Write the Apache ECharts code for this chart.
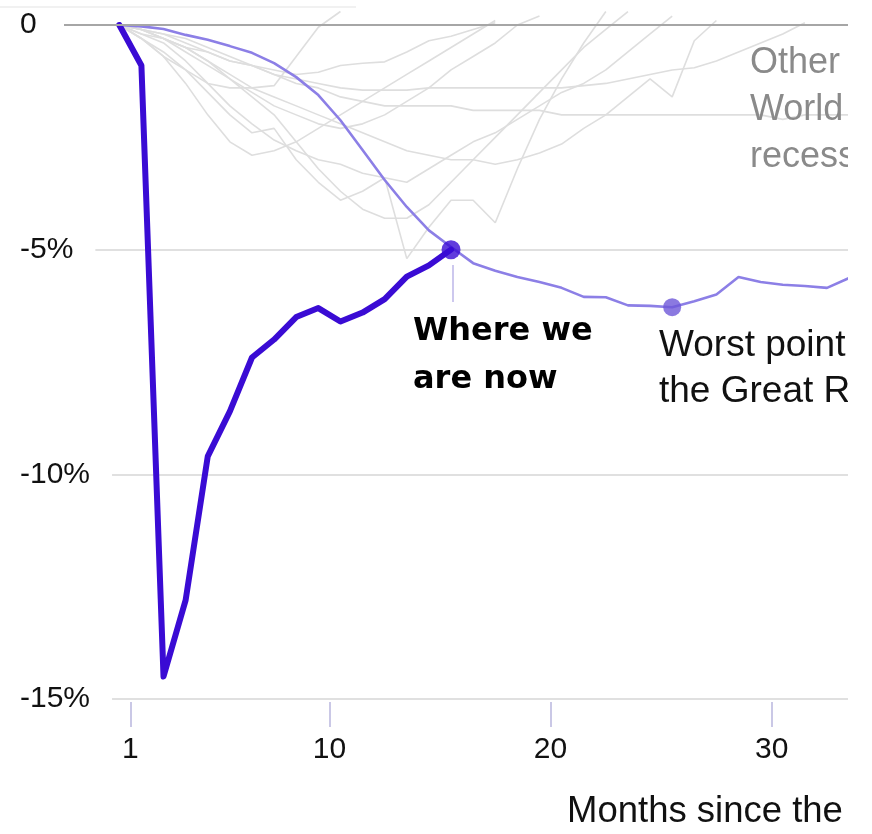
<!DOCTYPE html>
<html>
<head>
<meta charset="utf-8">
<script src="https://cdn.jsdelivr.net/npm/echarts@6/dist/echarts.min.js"></script>
<style>
html,body{margin:0;padding:0;background:#fff;}
#chart{width:872px;height:834px;}
</style>
</head>
<body>
<div id="chart"></div>
<script>
// x positions (months since the peak; the tick "1" is the first full month)
const months = [0.5,1.5,2.5,3.5,4.5,5.5,6.5,7.5,8.5,9.5,10.5,11.5,12.5,13.5,14.5,15.5,16.5,17.5,18.5,19.5,20.5,21.5,22.5,23.5,24.5,25.5,26.5,27.5,28.5,29.5,30.5,31.5,32.5,33.5,34.5,35.5];
const xTicks = [1, 10, 20, 30];

// Current recession (percent change in employment since peak)
const covid = [0, -0.9, -14.5, -12.8, -9.6, -8.6, -7.4, -7.0, -6.5, -6.3, -6.6, -6.4, -6.1, -5.6, -5.35, -5.0];
// Great Recession
const greatRecession = [0, -0.03, -0.09, -0.22, -0.33, -0.47, -0.62, -0.85, -1.16, -1.56, -2.12, -2.78, -3.45, -4.05, -4.57, -4.94, -5.3, -5.47, -5.61, -5.72, -5.85, -6.05, -6.06, -6.24, -6.25, -6.28, -6.15, -6.0, -5.61, -5.72, -5.78, -5.81, -5.85, -5.63, -5.5];
const worstIndex = 25;

// Other post-WWII recessions
const rec1948 = [0, -0.3, -0.6, -1.0, -1.5, -2.0, -2.4, -2.3, -3.0, -3.5, -3.9, -3.7, -3.4, -5.2, -4.5, -3.9, -3.9, -4.4, -3.2, -2.1, -1.2, -0.4, 0.3];
const rec1953 = [0, -0.2, -0.4, -0.8, -1.3, -1.8, -2.2, -2.56, -2.8, -3.0, -3.1, -3.3, -3.4, -3.5, -3.2, -2.9, -2.6, -2.4, -2.1, -1.8, -1.5, -1.3, -1.0, -0.6, -0.2, 0.2];
const rec1957 = [0, -0.1, -0.3, -0.6, -0.9, -1.2, -1.6, -2.0, -2.6, -3.2, -3.7, -4.1, -4.3, -4.3, -4.0, -3.5, -3.0, -2.5, -2.0, -1.5, -1.0, -0.5, -0.1, 0.3];
const rec1960 = [0, -0.1, -0.3, -0.5, -0.8, -1.2, -1.5, -1.8, -2.0, -2.2, -2.3, -2.2, -2.0, -1.7, -1.4, -1.0, -0.7, -0.4, 0.0, 0.2];
const rec1970 = [0, -0.2, -0.3, -0.5, -0.6, -0.8, -0.9, -1.0, -1.1, -1.05, -0.9, -0.85, -0.82, -0.6, -0.35, -0.25, -0.1, 0.05];
const rec1974 = [0, -0.3, -0.7, -1.3, -2.0, -2.6, -2.9, -2.8, -2.6, -2.3, -2.0, -1.7, -1.4, -1.1, -0.8, -0.5, -0.2, 0.1];
const rec1980 = [0, -0.3, -0.7, -1.0, -1.3, -1.4, -1.4, -1.35, -0.7, -0.05, 0.3];
const rec1981 = [0, -0.1, -0.3, -0.5, -0.8, -1.1, -1.4, -1.6, -1.8, -2.0, -2.2, -2.4, -2.6, -2.8, -2.9, -3.0, -3.0, -3.1, -3.0, -2.85, -2.65, -2.3, -2.0, -1.6, -1.2, -1.6, -0.35, 0.1];
const rec1990 = [0, -0.1, -0.2, -0.3, -0.5, -0.7, -0.9, -1.1, -1.2, -1.3, -1.4, -1.45, -1.45, -1.45, -1.4, -1.4, -1.4, -1.4, -1.4, -1.4, -1.4, -1.35, -1.3, -1.2, -1.1, -1.0, -0.95, -0.8, -0.6, -0.4, -0.2, 0.05];
const rec2001 = [0, -0.1, -0.2, -0.4, -0.6, -0.8, -0.9, -1.1, -1.3, -1.4, -1.6, -1.7, -1.8, -1.8, -1.8, -1.8, -1.9, -1.9, -1.9, -1.9, -2.0, -2.0, -2.0, -2.0, -2.0, -2.0, -2.0, -2.0, -2.0, -2.0, -2.1, -2.0, -2.0, -2.0, -1.9, -1.8];
const others = [rec1948, rec1953, rec1957, rec1960, rec1970, rec1974, rec1980, rec1981, rec1990, rec2001];

const FONT = '"Liberation Sans", Arial, sans-serif';
const toXY = arr => arr.map((v, i) => [months[i], v]);

const chart = echarts.init(document.getElementById('chart'), null, {renderer: 'canvas'});

const series = others.map((arr, i) => ({
  type: 'line',
  data: toXY(arr),
  showSymbol: false,
  symbol: 'none',
  silent: true,
  clip: false,
  z: 1,
  lineStyle: {color: '#dedede', width: 1.6},
  markLine: i === 0 ? {
    silent: true, symbol: 'none', label: {show: false},
    lineStyle: {color: '#a6a6a6', width: 2, type: 'solid'},
    data: [{yAxis: 0}]
  } : undefined
}));

series.push({
  type: 'line',
  data: toXY(greatRecession),
  showSymbol: false,
  symbol: 'none',
  z: 3,
  lineStyle: {color: '#8c7fe6', width: 2.6}
});
series.push({
  type: 'line',
  data: toXY(covid),
  showSymbol: false,
  symbol: 'none',
  z: 4,
  lineStyle: {color: '#3a0bd4', width: 6, join: 'round', cap: 'round'}
});
series.push({
  type: 'scatter',
  data: [[months[covid.length - 1], covid[covid.length - 1]]],
  symbolSize: 19,
  z: 5,
  itemStyle: {color: '#3a0bd4'}
});
series.push({
  type: 'scatter',
  data: [[months[worstIndex], greatRecession[worstIndex]]],
  symbolSize: 18,
  z: 5,
  itemStyle: {color: '#6e58d8'}
});

chart.setOption({
  animation: false,
  backgroundColor: '#ffffff',
  grid: {left: 64, right: 24, top: 25, bottom: 135, containLabel: false},
  xAxis: {
    type: 'value',
    min: -2,
    max: 33.45,
    offset: 3,
    axisLine: {show: false, onZero: false},
    splitLine: {show: false},
    axisTick: {show: true, customValues: xTicks, length: 25, lineStyle: {color: '#cac8e6', width: 2}},
    axisLabel: {customValues: xTicks, fontSize: 30, fontFamily: FONT, color: '#111', margin: 33}
  },
  yAxis: {
    type: 'value',
    min: -15,
    max: 0,
    interval: 5,
    axisLine: {show: false},
    axisTick: {show: false},
    splitLine: {show: true, lineStyle: {color: '#d6d6d6', width: 1.5}},
    axisLabel: {
      fontSize: 30, fontFamily: FONT, color: '#111', align: 'left', margin: 44,
      backgroundColor: '#fff', padding: [0, 22, 10, 0],
      formatter: v => v === 0 ? '0' : v + '%'
    }
  },
  series: series,
  graphic: [
    {type: 'line', z: 50, shape: {x1: 0, y1: 7, x2: 356, y2: 7}, style: {stroke: '#ececec', lineWidth: 1.5}},
    {type: 'line', z: 50, shape: {x1: 453, y1: 265, x2: 453, y2: 302}, style: {stroke: '#bdb6e8', lineWidth: 1.5}},
    {type: 'text', z: 50, left: 413, top: 308, style: {text: 'Where we\nare now', fontSize: 32, fontWeight: 'bold', fontFamily: '"DejaVu Sans", sans-serif', fill: '#000', lineHeight: 48}},
    {type: 'text', z: 50, left: 659, top: 323, style: {text: 'Worst point in\nthe Great Recession', fontSize: 37, fontFamily: FONT, fill: '#111', lineHeight: 46}},
    {type: 'text', z: 50, left: 750, top: 40, style: {text: 'Other post-\nWorld War II\nrecessions', fontSize: 36, fontFamily: FONT, fill: '#8a8a8a', lineHeight: 47}},
    {type: 'text', z: 50, left: 567, top: 792, style: {text: 'Months since the start of the recession', fontSize: 36.5, fontFamily: FONT, fill: '#111', lineHeight: 40}},
    {type: 'rect', z: 100, shape: {x: 848, y: 0, width: 24, height: 834}, style: {fill: '#fff'}}
  ]
});
</script>
</body>
</html>
